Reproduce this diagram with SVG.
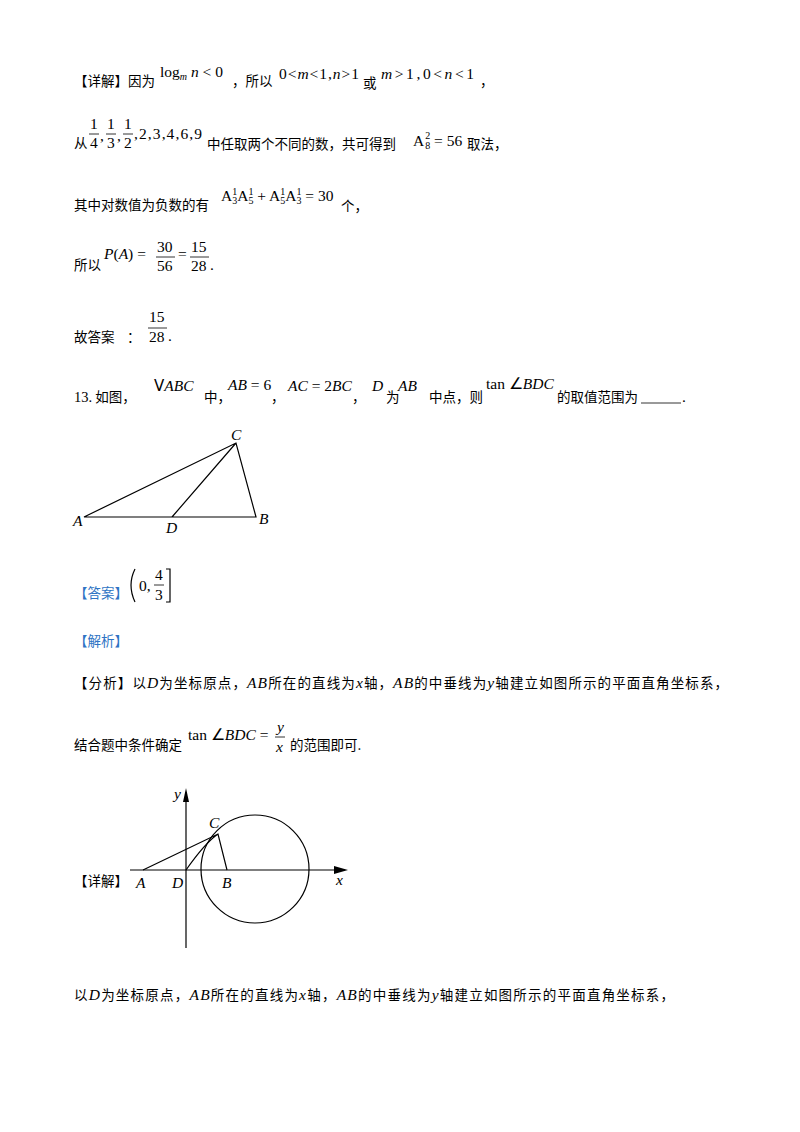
<svg xmlns="http://www.w3.org/2000/svg" width="800" height="1132" viewBox="0 0 800 1132">
<style>
text{font-family:"Liberation Serif","Noto Sans CJK SC",serif;font-size:14px;fill:#000}
.c{font-family:"Noto Sans CJK SC",sans-serif;font-size:13.5px}
.m{font-family:"Liberation Serif",serif;font-size:15.5px}
.i{font-style:italic}
.s{font-size:10px}
.b{fill:#2e74c4}
.ln{stroke:#000;stroke-width:1.2;fill:none}
.fr{stroke:#000;stroke-width:0.8}
</style>
<rect width="800" height="1132" fill="#fff"/>
<g id="text">
<text x="74" y="86" class="c">【详解】因为</text>
<text x="160" y="77" class="m">log<tspan class="s i" dy="3">m</tspan><tspan dy="-3" class="i"> n</tspan> &lt; 0</text>
<text x="232" y="86" class="c">，所以</text>
<text x="279" y="79" class="m" textLength="80" lengthAdjust="spacing">0&lt;<tspan class="i">m</tspan>&lt;1,<tspan class="i">n</tspan>&gt;1</text>
<text x="363" y="88" class="c">或</text>
<text x="381" y="79" class="m" textLength="93" lengthAdjust="spacing"><tspan class="i">m</tspan>&gt;1,0&lt;<tspan class="i">n</tspan>&lt;1</text>
<text x="480" y="86" class="c">，</text>

<text x="74" y="148" class="c">从</text>
<text x="90" y="129" class="m">1</text><line x1="89" y1="134" x2="99" y2="134" class="fr"/><text x="90" y="148" class="m">4</text>
<text x="100" y="141" class="m">,</text>
<text x="107" y="129" class="m">1</text><line x1="106" y1="134" x2="116" y2="134" class="fr"/><text x="107" y="148" class="m">3</text>
<text x="117" y="141" class="m">,</text>
<text x="124" y="129" class="m">1</text><line x1="123" y1="134" x2="133" y2="134" class="fr"/><text x="124" y="148" class="m">2</text>
<text x="134" y="139" class="m" textLength="68" lengthAdjust="spacing">,2,3,4,6,9</text>
<text x="207" y="149" class="c">中任取两个不同的数，共可得到</text>
<text x="413" y="146" class="m">A<tspan class="s" dx="1" dy="3">8</tspan><tspan class="s" dx="-5" dy="-10">2</tspan><tspan dy="7"> = 56</tspan></text>
<text x="467" y="149" class="c">取法，</text>

<text x="74" y="210" class="c">其中对数值为负数的有</text>
<text x="221" y="201" class="m">A<tspan class="s" dy="3">3</tspan><tspan class="s" dx="-5" dy="-9">1</tspan><tspan dy="6">A</tspan><tspan class="s" dy="3">5</tspan><tspan class="s" dx="-5" dy="-9">1</tspan><tspan dy="6"> + A</tspan><tspan class="s" dy="3">5</tspan><tspan class="s" dx="-5" dy="-9">1</tspan><tspan dy="6">A</tspan><tspan class="s" dy="3">3</tspan><tspan class="s" dx="-5" dy="-9">1</tspan><tspan dy="6"> = 30</tspan></text>
<text x="341" y="211" class="c">个，</text>

<text x="74" y="270" class="c">所以</text>
<text x="104" y="259" class="m"><tspan class="i">P</tspan>(<tspan class="i">A</tspan>) =</text>
<text x="157" y="252" class="m">30</text><line x1="156" y1="257" x2="175" y2="257" class="fr"/><text x="157" y="271" class="m">56</text>
<text x="178" y="259" class="m">=</text>
<text x="191" y="252" class="m">15</text><line x1="190" y1="257" x2="209" y2="257" class="fr"/><text x="191" y="271" class="m">28</text>
<text x="210" y="270" class="m">.</text>

<text x="74" y="342" class="c">故答案</text>
<text x="127" y="342" class="c">：</text>
<text x="149" y="322" class="m">15</text><line x1="148" y1="328" x2="167" y2="328" class="fr"/><text x="149" y="342" class="m">28</text>
<text x="168" y="341" class="m">.</text>

<text x="74" y="402" class="c"><tspan font-family="Liberation Serif" font-size="14.5">13.</tspan> 如图，</text>
<text x="154" y="391" class="m"><tspan font-family="DejaVu Sans" font-size="15">V</tspan><tspan class="i">ABC</tspan></text>
<text x="204" y="402" class="c">中，</text>
<text x="228" y="390" class="m"><tspan class="i">AB</tspan> = 6</text>
<text x="271" y="402" class="c">，</text>
<text x="288" y="391" class="m"><tspan class="i">AC</tspan> = 2<tspan class="i">BC</tspan></text>
<text x="352" y="402" class="c">，</text>
<text x="372" y="391" class="m i">D</text>
<text x="386" y="402" class="c">为</text>
<text x="398" y="391" class="m i">AB</text>
<text x="429" y="402" class="c">中点，则</text>
<text x="486" y="389" class="m">tan ∠<tspan class="i">BDC</tspan></text>
<text x="557" y="402" class="c">的取值范围为</text>
<line x1="641" y1="403" x2="681" y2="403" class="fr"/>
<text x="682" y="402" class="m">.</text>

<text x="74" y="598" class="c b">【答案】</text>
<path d="M135,569 Q127,585 135,602" class="ln" stroke-width="1"/>
<text x="139" y="591" class="m">0,</text>
<text x="155" y="580" class="m">4</text><line x1="154" y1="585" x2="164" y2="585" class="fr"/><text x="155" y="600" class="m">3</text>
<path d="M166,569 H170 V602 H166" class="ln" stroke-width="1"/>

<text x="74" y="646" class="c b">【解析】</text>
<text x="74" y="688" class="c" textLength="654" lengthAdjust="spacing">【分析】以<tspan class="m i" font-size="19">D</tspan>为坐标原点，<tspan class="m i">AB</tspan>所在的直线为<tspan class="m i">x</tspan>轴，<tspan class="m i">AB</tspan>的中垂线为<tspan class="m i">y</tspan>轴建立如图所示的平面直角坐标系，</text>
<text x="74" y="750" class="c">结合题中条件确定</text>
<text x="188" y="740" class="m">tan ∠<tspan class="i">BDC</tspan> =</text>
<text x="277" y="732" class="m i">y</text><line x1="275" y1="737" x2="285" y2="737" class="fr"/><text x="276" y="752" class="m i">x</text>
<text x="290" y="750" class="c">的范围即可.</text>
<text x="74" y="886" class="c">【详解】</text>
<text x="74" y="1000" class="c" textLength="600" lengthAdjust="spacing">以<tspan class="m i" font-size="19">D</tspan>为坐标原点，<tspan class="m i">AB</tspan>所在的直线为<tspan class="m i">x</tspan>轴，<tspan class="m i">AB</tspan>的中垂线为<tspan class="m i">y</tspan>轴建立如图所示的平面直角坐标系，</text>
</g>
<g id="fig1">
<path d="M84,517 L256,517 L236,443 Z M172,517 L236,443" class="ln"/>
<text x="231" y="440" class="m i">C</text>
<text x="73" y="526" class="m i">A</text>
<text x="166" y="533" class="m i">D</text>
<text x="259" y="524" class="m i">B</text>
</g>
<g id="fig2">
<line x1="186" y1="948" x2="186" y2="792" class="ln" stroke-width="1"/>
<path d="M183,802 L186,788 L189,802 Z"/>
<line x1="130" y1="870" x2="345" y2="870" class="ln" stroke-width="1"/>
<path d="M334,866 L348,870 L334,874 Z"/>
<circle cx="255" cy="869" r="54" class="ln" stroke-width="1"/>
<path d="M143,870 L218,834 L227,870 M186,870 Q205,843 218,834" class="ln" stroke-width="1"/>
<text x="209" y="828" class="m i">C</text>
<text x="136" y="888" class="m i">A</text>
<text x="172" y="888" class="m i">D</text>
<text x="222" y="888" class="m i">B</text>
<text x="336" y="885" class="m i">x</text>
<text x="174" y="799" class="m i">y</text>
</g>
</svg>
